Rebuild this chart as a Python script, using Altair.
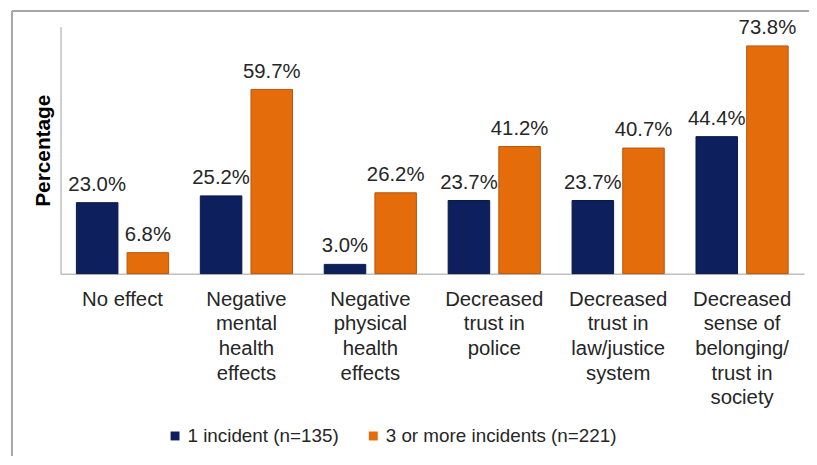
import altair as alt
import pandas as pd

categories = [
    "No effect",
    "Negative\nmental\nhealth\neffects",
    "Negative\nphysical\nhealth\neffects",
    "Decreased\ntrust in\npolice",
    "Decreased\ntrust in\nlaw/justice\nsystem",
    "Decreased\nsense of\nbelonging/\ntrust in\nsociety",
]
series = ["1 incident (n=135)", "3 or more incidents (n=221)"]
one_incident = [23.0, 25.2, 3.0, 23.7, 23.7, 44.4]
three_plus = [6.8, 59.7, 26.2, 41.2, 40.7, 73.8]
colors = ["#0D1F5C", "#E46C0A"]
strokes = ["#0A1848", "#B8570A"]

rows = []
for c, v in zip(categories, one_incident):
    rows.append({"category": c, "series": series[0], "value": v})
for c, v in zip(categories, three_plus):
    rows.append({"category": c, "series": series[1], "value": v})
df = pd.DataFrame(rows)

FONT = "Liberation Sans"
TXT = "#262626"

x_enc = alt.X(
    "category:N",
    sort=categories,
    scale=alt.Scale(paddingInner=0.256, paddingOuter=0.128),
    axis=alt.Axis(
        title=None,
        labelAngle=0,
        labelExpr="split(datum.label, '\\n')",
        labelFontSize=20.5,
        labelFont=FONT,
        labelColor=TXT,
        labelLineHeight=24.8,
        labelPadding=16,
        labelBaseline="top",
        labelLimit=0,
        ticks=False,
        domainColor="#BFBFBF",
        domainWidth=1.5,
    ),
)
xoff = alt.XOffset("series:N", sort=series, scale=alt.Scale(paddingInner=0.18))
y_enc = alt.Y(
    "value:Q",
    scale=alt.Scale(domain=[0, 80], nice=False),
    axis=alt.Axis(
        title="Percentage",
        titleFontSize=21,
        titleFont=FONT,
        titleFontWeight="bold",
        titleColor="#000000",
        titlePadding=7,
        labels=False,
        ticks=False,
        grid=False,
        domainColor="#BFBFBF",
        domainWidth=1.5,
    ),
)

base = alt.Chart(df)

bars = base.mark_bar(strokeWidth=1).encode(
    x=x_enc,
    xOffset=xoff,
    y=y_enc,
    color=alt.Color(
        "series:N",
        sort=series,
        scale=alt.Scale(domain=series, range=colors),
        legend=alt.Legend(
            title=None,
            orient="none",
            direction="horizontal",
            legendX=106,
            legendY=403,
            symbolType="square",
            symbolSize=81,
            symbolStrokeWidth=0,
            labelFontSize=19,
            labelFont=FONT,
            labelColor=TXT,
            labelOffset=3,
            labelLimit=0,
            columnPadding=25,
        ),
    ),
    stroke=alt.Stroke(
        "series:N", sort=series, scale=alt.Scale(domain=series, range=strokes), legend=None
    ),
)

labels = base.transform_calculate(
    label="format(datum.value, '.1f') + '%'"
).mark_text(
    baseline="alphabetic", dy=-12, fontSize=20.5, font=FONT, color=TXT
).encode(
    x=alt.X("category:N", sort=categories),
    xOffset=alt.XOffset("series:N", sort=series),
    y="value:Q",
    text="label:N",
)

frame_df = pd.DataFrame({"k": [0]})
frame_v = alt.Chart(frame_df).mark_rule(color="#A6A6A6", strokeWidth=2).encode(
    x=alt.value(-49), y=alt.value(-16), y2=alt.value(440)
)
frame_h = alt.Chart(frame_df).mark_rule(color="#A6A6A6", strokeWidth=2).encode(
    x=alt.value(-49), x2=alt.value(770), y=alt.value(-16)
)

chart = (
    alt.layer(frame_v, frame_h, bars, labels)
    .properties(
        width=750,
        height=249,
        autosize=alt.AutoSizeParams(type="none"),
        padding={"left": 53, "top": 17, "right": 5, "bottom": 182},
        background="#FFFFFF",
    )
    .configure_view(stroke=None)
)

chart.save("out.html", embed_options={"renderer": "svg", "actions": False})
